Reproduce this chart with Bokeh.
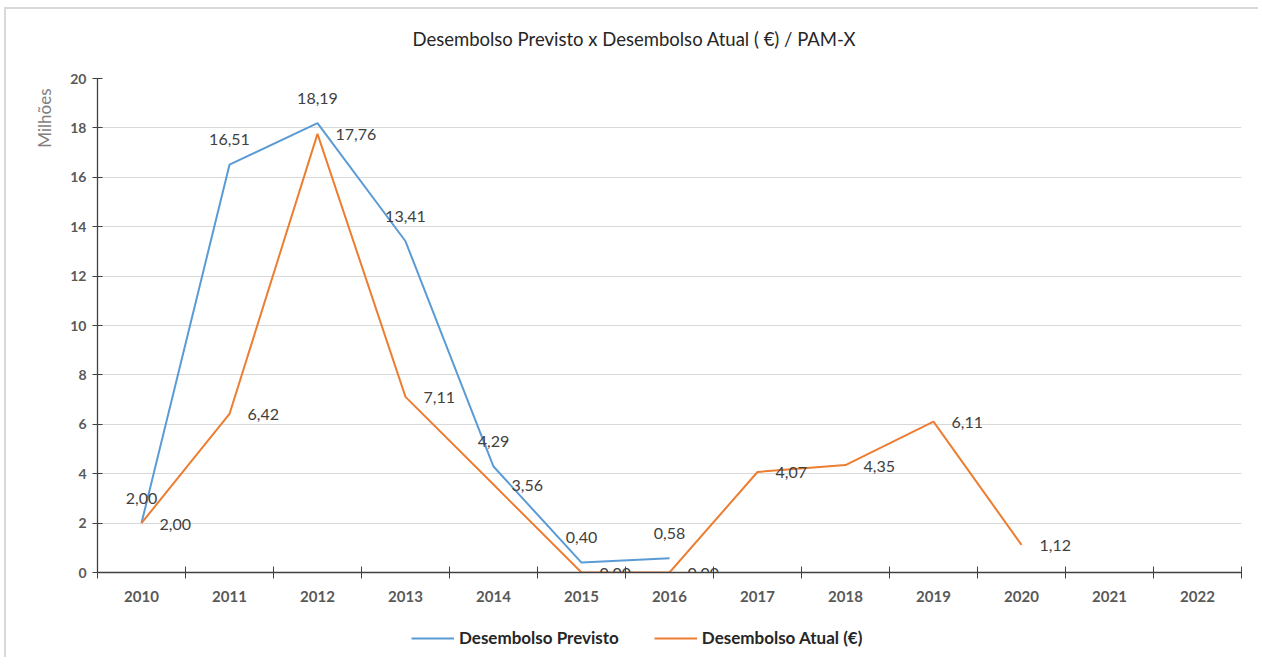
from bokeh.plotting import figure
from bokeh.layouts import column
from bokeh.models import (ColumnDataSource, FixedTicker, Legend, LegendItem, Title, Range1d, Label)
from bokeh.core.properties import value
from bokeh.embed import file_html
from bokeh.resources import INLINE

years = ["2010", "2011", "2012", "2013", "2014", "2015", "2016",
         "2017", "2018", "2019", "2020", "2021", "2022"]
previsto = [2.00, 16.51, 18.19, 13.41, 4.29, 0.40, 0.58]
atual = [2.00, 6.42, 17.76, 7.11, 3.56, 0.00, 0.00, 4.07, 4.35, 6.11, 1.12]
y_ticks = [0, 2, 4, 6, 8, 10, 12, 14, 16, 18, 20]

FONT = "Lato"
BLUE = "#5B9BD5"
ORANGE = "#ED7D31"
W = 1252

def fmt(v):
    return f"{v:.2f}".replace(".", ",")

src_p = ColumnDataSource(dict(x=list(range(len(previsto))), y=previsto,
                              t=[fmt(v) for v in previsto]))
src_a = ColumnDataSource(dict(x=list(range(len(atual))), y=atual,
                              t=[fmt(v) for v in atual]))

# header strip with the title
p0 = figure(width=W, height=60, output_backend="svg", toolbar_location=None,
            x_range=Range1d(0, 1), y_range=Range1d(0, 1),
            x_axis_location=None, y_axis_location=None, min_border=0)
p0.outline_line_color = None
p0.xgrid.visible = False
p0.ygrid.visible = False
p0.add_layout(Label(x=0.2753, y=0.516, text="Desembolso Previsto x Desembolso Atual ( €) / PAM-X",
                    text_font=FONT, text_font_size="18.5px", text_color="#262626",
                    text_align="left", text_baseline="middle"))

p = figure(width=W, height=548, output_backend="svg", toolbar_location=None,
           x_range=Range1d(-0.5, len(years) - 0.5), y_range=Range1d(0, 20),
           min_border_left=91, min_border_right=17, min_border_top=9, min_border_bottom=45)
p.outline_line_color = None
p.background_fill_color = "white"
p.border_fill_color = "white"

# grids
p.xgrid.grid_line_color = None
p.ygrid.grid_line_color = "#d9d9d9"
p.ygrid.grid_line_width = 1

# x axis
xa = p.xaxis[0]
xa.ticker = FixedTicker(ticks=list(range(len(years))),
                        minor_ticks=[i - 0.5 for i in range(len(years) + 1)])
xa.major_label_overrides = {i: y for i, y in enumerate(years)}
xa.major_tick_line_color = None
xa.minor_tick_line_color = "#404040"
xa.minor_tick_in = 6
xa.minor_tick_out = 6
xa.axis_line_color = "#404040"
xa.axis_line_width = 1.3
xa.major_label_text_font = FONT
xa.major_label_text_font_style = "bold"
xa.major_label_text_font_size = "15px"
xa.major_label_text_color = "#595959"
xa.major_label_standoff = 12

# y axis
ya = p.yaxis[0]
ya.ticker = FixedTicker(ticks=y_ticks)
ya.minor_tick_line_color = None
ya.major_tick_line_color = "#404040"
ya.major_tick_in = 5
ya.major_tick_out = 5
ya.axis_line_color = "#404040"
ya.axis_line_width = 1.3
ya.major_label_text_font = FONT
ya.major_label_text_font_style = "bold"
ya.major_label_text_font_size = "14px"
ya.major_label_text_color = "#595959"
ya.major_label_standoff = 6

p.add_layout(Title(text="Milhões", align="right", offset=10, standoff=26,
                   text_font=FONT, text_font_style="normal", text_font_size="17px",
                   text_color="#7f7f7f"), "left")

lp = p.line("x", "y", source=src_p, line_color=BLUE, line_width=2)
la = p.line("x", "y", source=src_a, line_color=ORANGE, line_width=2)

p.text("x", "y", text="t", source=src_p, text_font=value(FONT), text_font_size="16px",
       text_color="#404040", text_align="center", text_baseline="middle", y_offset=-25)
p.text("x", "y", text="t", source=src_a, text_font=value(FONT), text_font_size="16px",
       text_color="#404040", text_align="left", text_baseline="middle", x_offset=18, y_offset=1)

# legend strip (proxy lines use the same sources; their x-range shows none of the data)
p2 = figure(width=W, height=40, output_backend="svg", toolbar_location=None,
            x_range=Range1d(-3, -2), y_range=Range1d(0, 1),
            x_axis_location=None, y_axis_location=None, min_border=0)
p2.outline_line_color = None
p2.xgrid.visible = False
p2.ygrid.visible = False
dp = p2.line("x", "y", source=src_p, line_color=BLUE, line_width=2)
da = p2.line("x", "y", source=src_a, line_color=ORANGE, line_width=2)

legend = Legend(items=[LegendItem(label="Desembolso Previsto", renderers=[dp]),
                       LegendItem(label="Desembolso Atual (€)", renderers=[da])],
                orientation="horizontal", location=(314, 9))
legend.label_text_font = FONT
legend.label_text_font_style = "bold"
legend.label_text_font_size = "17px"
legend.label_text_color = "#262626"
legend.border_line_color = None
legend.background_fill_alpha = 0
legend.glyph_width = 43
legend.label_standoff = 5
legend.spacing = 35
legend.margin = 0
legend.padding = 4
p2.add_layout(legend)

layout = column(p0, p, p2, spacing=0,
                styles={"border-left": "2px solid #d9d9d9", "border-top": "2px solid #d9d9d9",
                        "margin-left": "4px", "margin-top": "7px"})

open("out.html", "w").write(file_html(layout, INLINE))
